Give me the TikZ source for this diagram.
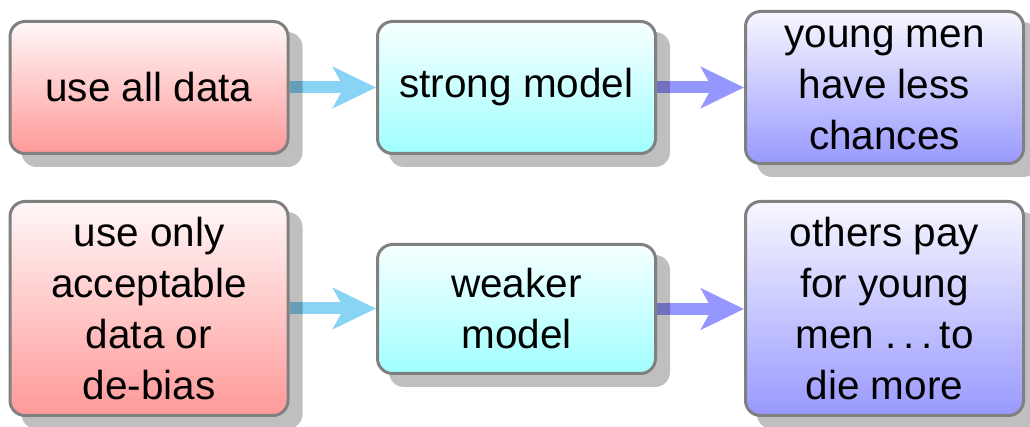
\documentclass[tikz,border=0pt]{standalone}
\usepackage{fontspec}
\setmainfont{Liberation Sans}
\usetikzlibrary{arrows.meta}
\pgfdeclarelayer{arrowlayer}
\pgfdeclarelayer{shadowlayer}
\pgfsetlayers{arrowlayer,shadowlayer,main}
\definecolor{arrowcyan}{RGB}{137,212,245}
\definecolor{arrowblue}{RGB}{150,150,255}
\tikzset{
  box/.style={draw=black!50, line width=3pt, rounded corners=15pt,
    minimum width=278pt, inner sep=0pt, align=center,
    font=\fontsize{40.5}{51}\selectfont},
  redbox/.style={box, top color=red!3, bottom color=red!40},
  cyanbox/.style={box, top color=cyan!3, bottom color=cyan!37},
  bluebox/.style={box, top color=blue!3, bottom color=blue!40},
  boxshade/.style={fill=black, opacity=0.25, rounded corners=15pt},
  flowarrow/.style={line width=12pt, -{Stealth[length=43pt, width=41pt, inset=11pt]}},
  arrowA/.style={flowarrow, draw=arrowcyan, fill=arrowcyan},
  arrowB/.style={flowarrow, draw=arrowblue, fill=arrowblue},
}
\begin{document}
\begin{tikzpicture}[x=1pt, y=1pt]
\useasboundingbox (0,0) rectangle (1030,427);
\node[redbox,  minimum height=132pt] (b1) at (149,339.5) {use all data};
\node[cyanbox, minimum height=132pt] (b2) at (516.5,339.5) {strong model};
\node[bluebox, minimum height=152pt] (b3) at (884.5,339.5) {young men\\have less\\chances};
\node[redbox,  minimum height=214pt] (b4) at (149,118.5) {use only\\acceptable\\data or\\de-bias};
\node[cyanbox, minimum height=129pt] (b5) at (516.5,118) {weaker\\model};
\node[bluebox, minimum height=214pt] (b6) at (884.5,118.5) {others pay\\for young\\men .\kern.17em.\kern.17em.\kern.17em{}to\\die more};
\begin{pgfonlayer}{shadowlayer}
  \foreach \n in {b1,b2,b3,b4,b5,b6}
    \fill[boxshade] ([shift={(13,-12)}]\n.south west) rectangle ([shift={(13,-12)}]\n.north east);
\end{pgfonlayer}
\begin{pgfonlayer}{arrowlayer}
  \draw[arrowA] (b1.east) -- (b2.west);
  \draw[arrowB] (b2.east) -- (b3.west);
  \draw[arrowA] (b4.east) -- (b4.east -| b5.west);
  \draw[arrowB] (b5.east) -- (b5.east -| b6.west);
\end{pgfonlayer}
\end{tikzpicture}
\end{document}
